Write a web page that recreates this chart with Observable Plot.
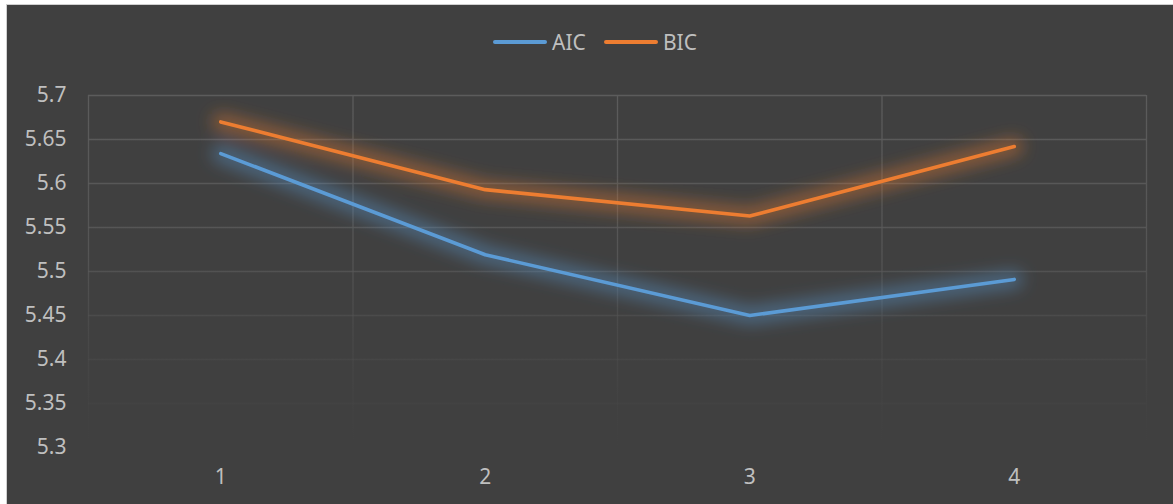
<!DOCTYPE html>
<html>
<head>
<meta charset="utf-8">
<script src="https://cdn.jsdelivr.net/npm/d3@7"></script>
<script src="https://cdn.jsdelivr.net/npm/@observablehq/plot@0.6"></script>
<style>
  html, body { margin: 0; padding: 0; background: #ffffff; }
  #chart {
    position: absolute; left: 6px; top: 4px;
    width: 1167px; height: 500px;
    background: #404040;
    border-top: 1px solid #d0d0d0; border-left: 1px solid #d0d0d0;
    font-family: "Noto Sans", sans-serif;
    overflow: hidden;
  }
  #legend {
    height: 74px; display: flex; align-items: center; justify-content: center;
    padding-left: 9px; box-sizing: border-box;
    color: #bfbfbf; font-size: 21px;
  }
  .item { display: flex; align-items: center; margin: 0 9px; }
  .swatch { width: 54px; height: 4px; border-radius: 2px; margin-right: 5px; }
  #chart svg { display: block; }
</style>
</head>
<body>
<div id="chart">
  <div id="legend"></div>
</div>
<script>
// Information criteria by model order
const orders = [1, 2, 3, 4];
const aic = [5.634, 5.519, 5.450, 5.491];
const bic = [5.670, 5.593, 5.563, 5.642];
const seriesNames = ["AIC", "BIC"];
const seriesColors = ["#5b9bd5", "#ed7d31"];
const yTicks = [5.3, 5.35, 5.4, 5.45, 5.5, 5.55, 5.6, 5.65, 5.7];

const rows = [
  ...orders.map((o, i) => ({order: o, value: aic[i], series: "AIC"})),
  ...orders.map((o, i) => ({order: o, value: bic[i], series: "BIC"}))
];
// category boundaries for the vertical grid
const bounds = [...orders.map(o => o - 0.5), orders[orders.length - 1] + 0.5];

const W = 1166, H = 425;
const mTop = 16, mBottom = 57, mLeft = 81, mRight = 27;

const svg = Plot.plot({
  width: W, height: H,
  marginTop: mTop, marginBottom: mBottom, marginLeft: mLeft, marginRight: mRight,
  style: {background: "transparent", color: "#bfbfbf", fontFamily: "Noto Sans, sans-serif", fontSize: "21px"},
  x: {domain: [orders[0] - 0.5, orders[orders.length - 1] + 0.5], label: null},
  y: {domain: [yTicks[0], yTicks[yTicks.length - 1]], label: null},
  color: {domain: seriesNames, range: seriesColors},
  marks: [
    Plot.ruleY(yTicks, {stroke: "#5a5a5a", strokeWidth: 1.3}),
    Plot.ruleX(bounds, {stroke: "#5a5a5a", strokeWidth: 1.3}),
    Plot.line(rows, {x: "order", y: "value", z: "series", stroke: "series", strokeWidth: 18, strokeOpacity: 0.42, strokeLinejoin: "round", strokeLinecap: "round"}),
    Plot.line(rows, {x: "order", y: "value", z: "series", stroke: "series", strokeWidth: 3.6, strokeLinejoin: "round", strokeLinecap: "round"}),
    Plot.axisY(yTicks, {tickSize: 0, tickPadding: 22, label: null, tickFormat: d => String(+d.toFixed(2)), fill: "#bfbfbf", fontSize: 21}),
    Plot.axisX(orders, {tickSize: 0, tickPadding: 22, label: null, tickFormat: d => String(d), fill: "#bfbfbf", fontSize: 21})
  ]
});

// gradient for the fading grid and a soft glow for the series
const plotTop = mTop, plotBottom = H - mBottom;
const defs = d3.select(svg).insert("defs", ":first-child");
const grad = defs.append("linearGradient")
  .attr("id", "gridFade").attr("gradientUnits", "userSpaceOnUse")
  .attr("x1", 0).attr("x2", 0).attr("y1", plotTop).attr("y2", plotBottom);
grad.append("stop").attr("offset", "0").attr("stop-color", "#5c5c5c").attr("stop-opacity", 1);
grad.append("stop").attr("offset", "0.45").attr("stop-color", "#5a5a5a").attr("stop-opacity", 0.8);
grad.append("stop").attr("offset", "1").attr("stop-color", "#4a4a4a").attr("stop-opacity", 0);
defs.append("filter").attr("id", "glow")
  .attr("x", "-10%").attr("y", "-50%").attr("width", "120%").attr("height", "200%")
  .append("feGaussianBlur").attr("stdDeviation", 8);

const rules = d3.select(svg).selectAll('g[aria-label="rule"]');
rules.attr("stroke", "url(#gridFade)").selectAll("line").attr("stroke", "url(#gridFade)");
const lineGroups = d3.select(svg).selectAll('g[aria-label="line"]').nodes();
d3.select(lineGroups[0]).attr("filter", "url(#glow)");

document.getElementById("chart").appendChild(svg);

// legend
const legend = d3.select("#legend");
seriesNames.forEach((name, i) => {
  const it = legend.append("div").attr("class", "item");
  it.append("div").attr("class", "swatch").style("background", seriesColors[i]);
  it.append("span").text(name);
});
</script>
</body>
</html>
